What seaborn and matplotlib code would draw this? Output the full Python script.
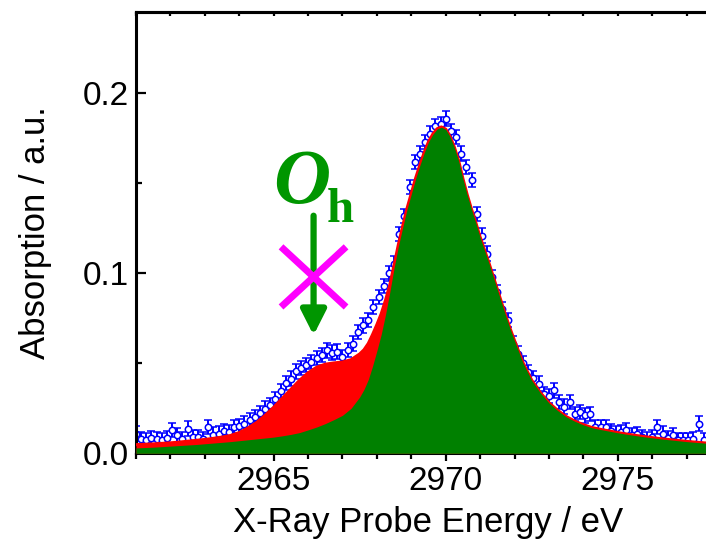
import numpy as np
import pandas as pd
import matplotlib
matplotlib.use("Agg")
import matplotlib.pyplot as plt
import seaborn as sns
from matplotlib.ticker import MultipleLocator, FormatStrFormatter

# ---------------- data ----------------
energy = [2961.00, 2961.15, 2961.30, 2961.45, 2961.60, 2961.75, 2961.90, 2962.05, 2962.20, 2962.35,
          2962.50, 2962.65, 2962.80, 2962.95, 2963.10, 2963.25, 2963.40, 2963.55, 2963.70, 2963.85,
          2964.00, 2964.15, 2964.30, 2964.45, 2964.60, 2964.75, 2964.90, 2965.05, 2965.20, 2965.35,
          2965.50, 2965.65, 2965.80, 2965.95, 2966.10, 2966.25, 2966.40, 2966.55, 2966.70, 2966.85,
          2967.00, 2967.15, 2967.30, 2967.45, 2967.60, 2967.75, 2967.90, 2968.05, 2968.20, 2968.35,
          2968.50, 2968.65, 2968.80, 2968.95, 2969.10, 2969.25, 2969.40, 2969.55, 2969.70, 2969.85,
          2970.00, 2970.15, 2970.30, 2970.45, 2970.60, 2970.75, 2970.90, 2971.05, 2971.20, 2971.35,
          2971.50, 2971.65, 2971.80, 2971.95, 2972.10, 2972.25, 2972.40, 2972.55, 2972.70, 2972.85,
          2973.00, 2973.15, 2973.30, 2973.45, 2973.60, 2973.75, 2973.90, 2974.05, 2974.20, 2974.35,
          2974.50, 2974.65, 2974.80, 2974.95, 2975.10, 2975.25, 2975.40, 2975.55, 2975.70, 2975.85,
          2976.00, 2976.15, 2976.30, 2976.45, 2976.60, 2976.75, 2976.90, 2977.05, 2977.20, 2977.35,
          2977.50]
absorption = [0.0110, 0.0081, 0.0072, 0.0085, 0.0081, 0.0072, 0.0085, 0.0128, 0.0100, 0.0081,
              0.0137, 0.0091, 0.0091, 0.0078, 0.0146, 0.0104, 0.0109, 0.0122, 0.0119, 0.0146,
              0.0152, 0.0165, 0.0183, 0.0200, 0.0222, 0.0248, 0.0270, 0.0300, 0.0345, 0.0390,
              0.0415, 0.0455, 0.0475, 0.0490, 0.0507, 0.0530, 0.0545, 0.0572, 0.0560, 0.0565,
              0.0535, 0.0575, 0.0609, 0.0674, 0.0711, 0.0739, 0.0813, 0.0869, 0.0930, 0.1000,
              0.1054, 0.1220, 0.1320, 0.1480, 0.1620, 0.1665, 0.1730, 0.1776, 0.1820, 0.1830,
              0.1860, 0.1790, 0.1757, 0.1665, 0.1590, 0.1517, 0.1330, 0.1210, 0.1110, 0.0980,
              0.0896, 0.0800, 0.0740, 0.0610, 0.0554, 0.0500, 0.0452, 0.0420, 0.0387, 0.0330,
              0.0320, 0.0350, 0.0285, 0.0260, 0.0285, 0.0220, 0.0230, 0.0211, 0.0220, 0.0146,
              0.0146, 0.0146, 0.0125, 0.0109, 0.0120, 0.0128, 0.0100, 0.0105, 0.0090, 0.0076,
              0.0091, 0.0146, 0.0109, 0.0085, 0.0100, 0.0072, 0.0072, 0.0072, 0.0080, 0.0165,
              0.0072]
abs_err = 0.004

fit_energy = [2961.00, 2961.25, 2961.50, 2961.75, 2962.00, 2962.25, 2962.50, 2962.75, 2963.00, 2963.25,
              2963.50, 2963.75, 2964.00, 2964.25, 2964.50, 2964.75, 2965.00, 2965.25, 2965.50, 2965.75,
              2966.00, 2966.25, 2966.50, 2966.75, 2967.00, 2967.25, 2967.50,
              2967.625, 2967.750, 2967.875, 2968.000, 2968.125, 2968.250, 2968.375, 2968.500, 2968.625,
              2968.750, 2968.875, 2969.000, 2969.125, 2969.250, 2969.375, 2969.500, 2969.625, 2969.750,
              2969.875, 2970.000, 2970.125, 2970.250, 2970.375, 2970.500, 2970.625, 2970.750, 2970.875,
              2971.000, 2971.125, 2971.250, 2971.375, 2971.500, 2971.625, 2971.750, 2971.875, 2972.000,
              2972.25, 2972.50, 2972.75, 2973.00, 2973.25, 2973.50, 2973.75, 2974.00, 2974.25, 2974.50,
              2974.75, 2975.00, 2975.25, 2975.50, 2975.75, 2976.00, 2976.25, 2976.50, 2976.75, 2977.00,
              2977.25, 2977.50, 2977.75, 2978.00]
fit_total = [0.0048, 0.0050, 0.0052, 0.0055, 0.0058, 0.0062, 0.0067, 0.0072, 0.0077, 0.0083,
             0.0090, 0.0099, 0.0115, 0.0140, 0.0170, 0.0210, 0.0255, 0.0305, 0.0355, 0.0405,
             0.0447, 0.0478, 0.0495, 0.0502, 0.0507, 0.0520, 0.0552,
             0.0575, 0.0610, 0.0660, 0.0715, 0.0775, 0.0850, 0.0935, 0.1045, 0.1160,
             0.1262, 0.1360, 0.1444, 0.1528, 0.1602, 0.1671, 0.1731, 0.1773, 0.1803,
             0.1813, 0.1801, 0.1761, 0.1701, 0.1626, 0.1526, 0.1436, 0.1356, 0.1281,
             0.1201, 0.1131, 0.1061, 0.0986, 0.0911, 0.0836, 0.0761, 0.0691, 0.0626,
             0.0501, 0.0406, 0.0337, 0.0281, 0.0239, 0.0204, 0.0179, 0.0159, 0.0143, 0.0133,
             0.0124, 0.0115, 0.0107, 0.0100, 0.0093, 0.0087, 0.0081, 0.0076, 0.0071, 0.0066,
             0.0062, 0.0058, 0.0055, 0.0052]
fit_main = [0.0030, 0.0032, 0.0034, 0.0037, 0.0040, 0.0043, 0.0046, 0.0049, 0.0053, 0.0057,
            0.0061, 0.0065, 0.0070, 0.0075, 0.0080, 0.0085, 0.0090, 0.0097, 0.0105, 0.0115,
            0.0130, 0.0146, 0.0165, 0.0187, 0.0211, 0.0250, 0.0313,
            0.0355, 0.0410, 0.0485, 0.0570, 0.0660, 0.0770, 0.0895, 0.1030, 0.1150,
            0.1255, 0.1355, 0.1440, 0.1525, 0.1600, 0.1670, 0.1730, 0.1772, 0.1802,
            0.1812, 0.1800, 0.1760, 0.1700, 0.1625, 0.1525, 0.1435, 0.1355, 0.1280,
            0.1200, 0.1130, 0.1060, 0.0985, 0.0910, 0.0835, 0.0760, 0.0690, 0.0625,
            0.0500, 0.0405, 0.0336, 0.0280, 0.0238, 0.0203, 0.0178, 0.0158, 0.0142, 0.0132,
            0.0123, 0.0114, 0.0106, 0.0099, 0.0092, 0.0086, 0.0080, 0.0075, 0.0070, 0.0065,
            0.0061, 0.0057, 0.0054, 0.0051]

x_ticks = [2965, 2970, 2975]
y_ticks = [0.0, 0.1, 0.2]
x_label = "X-Ray Probe Energy / eV"
y_label = "Absorption / a.u."

# ---------------- styling ----------------
sns.set_theme(style="ticks")
plt.rcParams["font.family"] = ["Liberation Sans", "DejaVu Sans"]
plt.rcParams["text.color"] = "black"
plt.rcParams["axes.labelcolor"] = "black"
plt.rcParams["xtick.color"] = "black"
plt.rcParams["ytick.color"] = "black"
plt.rcParams["axes.edgecolor"] = "black"

BLUE = "#0000FF"
RED = "#FF0000"
GREEN_FILL = "#008000"
GREEN_TXT = "#009600"
MAGENTA = "#FF00FF"

W, H = 706, 542
fig = plt.figure(figsize=(W / 100, H / 100), dpi=100)
ax = fig.add_axes([136 / W, (H - 453.3) / H, 585 / W, 441 / H])

df = pd.DataFrame({"E": energy, "A": absorption})
fit = pd.DataFrame({"E": fit_energy, "total": fit_total, "main": fit_main})

# data with error bars (below the fills)
ax.errorbar(df["E"], df["A"], yerr=abs_err, fmt="o", ms=4.6, mfc="white", mec=BLUE,
            mew=1.1, ecolor=BLUE, elinewidth=1.4, capsize=3.0, capthick=1.6, zorder=2)

# total fit (red) and main component (green)
ax.fill_between(fit["E"], 0, fit["total"], color=RED, lw=0, zorder=3)
sns.lineplot(data=fit, x="E", y="total", color=RED, lw=2.2, ax=ax, sort=False,
             estimator=None, zorder=3.5)
ax.fill_between(fit["E"], 0, fit["main"], color=GREEN_FILL, lw=0, zorder=4)

ax.set_xlim(2961, 2978)
ax.set_ylim(0, 0.245)

# ticks
ax.set_xticks(x_ticks)
ax.xaxis.set_minor_locator(MultipleLocator(1))
ax.set_yticks(y_ticks)
ax.yaxis.set_minor_locator(MultipleLocator(0.05))
ax.yaxis.set_major_formatter(FormatStrFormatter("%.1f"))
ax.tick_params(axis="x", which="major", direction="out", length=6, width=1.6,
               labelsize=24, pad=3, top=False, colors="black")
ax.tick_params(axis="x", which="minor", direction="out", length=4, width=1.6, top=False,
               colors="black")
ax.tick_params(axis="y", which="major", direction="in", length=7, width=1.6,
               labelsize=24, pad=5, right=False, colors="black")
ax.tick_params(axis="y", which="minor", direction="in", length=4, width=1.6, right=False,
               colors="black")
ax.set_xlabel("")
ax.set_ylabel("")

for side in ["left", "bottom", "top"]:
    ax.spines[side].set_linewidth(2.2)
    ax.spines[side].set_color("black")
ax.spines["right"].set_visible(False)

sec = ax.secondary_xaxis("top")
sec.set_xticks(x_ticks)
sec.xaxis.set_minor_locator(MultipleLocator(1))
sec.tick_params(axis="x", which="both", direction="in", length=3, width=1.6,
                labeltop=False, labelbottom=False, colors="black")
sec.spines["top"].set_linewidth(2.2)
sec.spines["top"].set_color("black")

# annotations: O_h, arrow, magenta cross
ax.text(2965.81, 0.139, "O", fontfamily=["Liberation Serif", "DejaVu Serif"], fontstyle="italic",
        fontweight="bold", fontsize=57, color=GREEN_TXT, ha="center", va="baseline", zorder=6)
ax.text(2966.93, 0.1283, "h", fontfamily=["Liberation Serif", "DejaVu Serif"], fontweight="bold",
        fontsize=35, color=GREEN_TXT, ha="center", va="baseline", zorder=6)
ax.annotate("", xy=(2966.16, 0.0656), xytext=(2966.16, 0.132),
            arrowprops=dict(arrowstyle="-|>,head_length=0.75,head_width=0.38", mutation_scale=20,
                            color=GREEN_TXT, lw=4.5, shrinkA=0, shrinkB=0), zorder=6)
ax.plot([2965.215, 2967.105], [0.1147, 0.0813], color=MAGENTA, lw=5, solid_capstyle="butt", zorder=7)
ax.plot([2965.215, 2967.105], [0.0813, 0.1147], color=MAGENTA, lw=5, solid_capstyle="butt", zorder=7)

# axis titles
fig.text(428 / W, (H - 532) / H, x_label, fontsize=25, ha="center", va="baseline", color="black")
fig.text(45 / W, (H - 233) / H, y_label, fontsize=25, rotation=90, rotation_mode="anchor",
         ha="center", va="baseline", color="black")

fig.savefig("out.png", dpi=100)
